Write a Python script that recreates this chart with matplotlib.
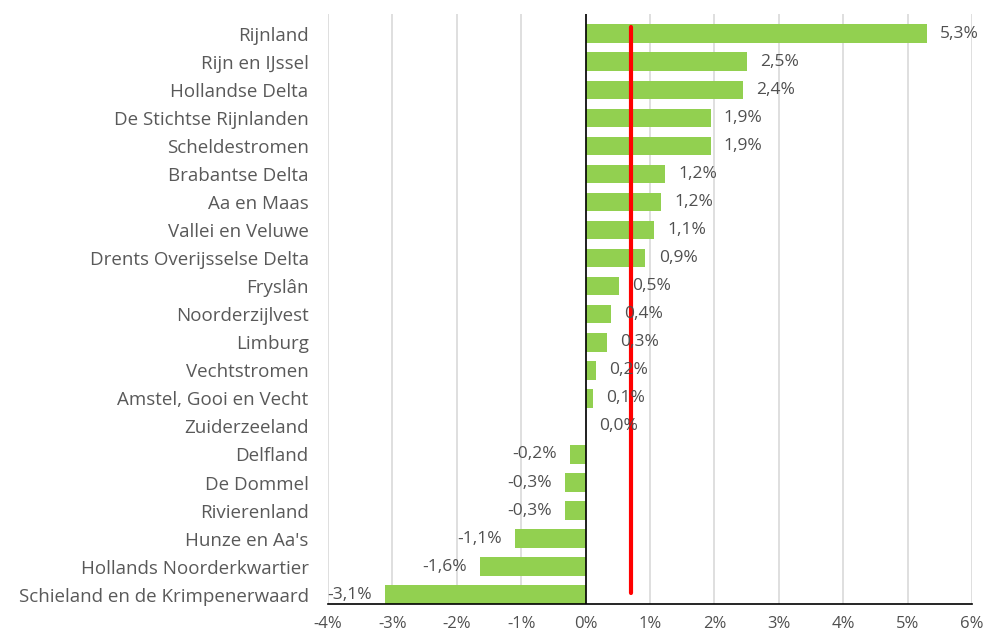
import matplotlib
matplotlib.use("Agg")
import matplotlib.pyplot as plt
import numpy as np

# waterschappen en procentuele verandering
namen = ["Rijnland", "Rijn en IJssel", "Hollandse Delta", "De Stichtse Rijnlanden",
         "Scheldestromen", "Brabantse Delta", "Aa en Maas", "Vallei en Veluwe",
         "Drents Overijsselse Delta", "Fryslân", "Noorderzijlvest", "Limburg",
         "Vechtstromen", "Amstel, Gooi en Vecht", "Zuiderzeeland", "Delfland",
         "De Dommel", "Rivierenland", "Hunze en Aa's", "Hollands Noorderkwartier",
         "Schieland en de Krimpenerwaard"]
waarden = [5.30, 2.51, 2.45, 1.94, 1.94, 1.23, 1.17, 1.07, 0.93, 0.52, 0.40, 0.33,
           0.16, 0.11, 0.0, -0.24, -0.32, -0.32, -1.10, -1.64, -3.12]
labels = ["5,3%", "2,5%", "2,4%", "1,9%", "1,9%", "1,2%", "1,2%", "1,1%", "0,9%",
          "0,5%", "0,4%", "0,3%", "0,2%", "0,1%", "0,0%", "-0,2%", "-0,3%", "-0,3%",
          "-1,1%", "-1,6%", "-3,1%"]
gemiddelde = 0.7
lijn_y = [-0.25, 19.95]
xticks = [-4, -3, -2, -1, 0, 1, 2, 3, 4, 5, 6]

tekst = "#505050"
fig = plt.figure(figsize=(9.87, 6.34), dpi=100)
ax = fig.add_axes([0.3323, 0.0473, 0.6525, 0.9301])

y = np.arange(len(namen))
ax.barh(y, waarden, height=0.66, color="#92d050", zorder=2)

for yi, v, lab in zip(y, waarden, labels):
    if v >= 0:
        ax.annotate(lab, (v, yi), xytext=(9.5, 0), textcoords="offset points",
                    ha="left", va="center", fontsize=12.5, color=tekst,
                    family="Open Sans", zorder=4)
    else:
        ax.annotate(lab, (v, yi), xytext=(-9.5, 0), textcoords="offset points",
                    ha="right", va="center", fontsize=12.5, color=tekst,
                    family="Open Sans", zorder=4)

ax.plot([gemiddelde, gemiddelde], lijn_y, color="red", lw=3, solid_capstyle="round", zorder=3)

ax.set_xlim(-4, 6)
ax.set_ylim(20.33, -0.69)
ax.set_xticks(xticks)
ax.set_xticklabels([f"{t}%" for t in xticks], fontsize=12, color=tekst, family="Open Sans")
ax.set_yticks(y)
ax.set_yticklabels(namen, fontsize=13.5, color="#595959", family="Open Sans")
ax.tick_params(axis="y", length=0, pad=14)
ax.tick_params(axis="x", length=0, pad=8.5)

ax.grid(axis="x", color="#d9d9d9", lw=1.2, zorder=0)
ax.set_axisbelow(True)
for s in ["left", "right", "top"]:
    ax.spines[s].set_visible(False)
ax.spines["bottom"].set_color("black")
ax.spines["bottom"].set_linewidth(1.2)
ax.axvline(0, color="black", lw=1.2, zorder=3)

fig.savefig("out.png", dpi=100)
